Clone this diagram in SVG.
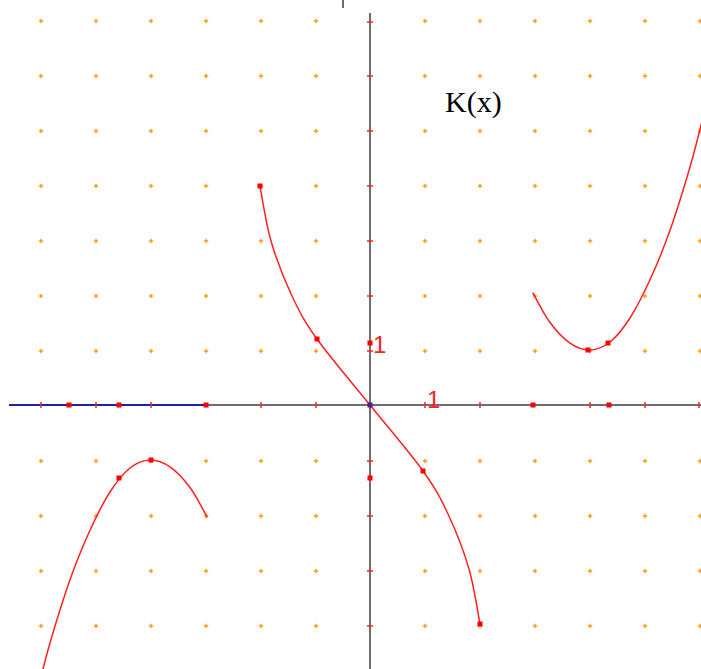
<svg xmlns="http://www.w3.org/2000/svg" width="701" height="669" viewBox="0 0 701 669">
<style>
.dot{stroke:#ff9d1a;stroke-width:1.4;fill:none}
.axis{stroke:#6e6e6e;stroke-width:2;fill:none}
.tick{stroke:#ff2020;stroke-width:1.5}
.curve{stroke:#ff2020;stroke-width:1.5;fill:none;stroke-linecap:round}
.pt{fill:#ff0000}
.lbl{fill:#ff2020;font-family:"Liberation Sans",Arial,sans-serif;font-size:24px;font-weight:normal}
.title{fill:#000;font-family:"Liberation Serif","Times New Roman",serif;font-size:30px}
</style>
<defs>
<path id="d" class="dot" d="M-2.2 0h4.4M0 -2.2v4.4"/>
<path id="xt" class="tick" d="M0 -3v6"/>
<path id="yt" class="tick" d="M-3 0h6"/>
<rect id="sq" class="pt" x="-2.5" y="-2.5" width="5" height="5"/>
<path id="rc" d="M533 293.1C535.8 298 543.8 314.2 550 322.5C556.2 330.8 563.3 338.5 570 343.1C576.7 347.7 583.3 350.2 590 350C596.7 349.8 603.3 347.3 610 342C616.7 336.7 623.3 328.4 630 318C636.7 307.6 643.3 294.4 650 279.8C656.7 265.2 663.3 249.1 670 230.3C676.7 211.5 684.5 185.8 690 167C695.5 148.2 700.8 125.8 703 117.6"/>
</defs>
<rect width="701" height="669" fill="#fff"/>
<g id="grid">
<g id="row21"><use href="#d" x="41" y="21"/><use href="#d" x="96" y="21"/><use href="#d" x="151" y="21"/><use href="#d" x="206" y="21"/><use href="#d" x="261" y="21"/><use href="#d" x="316" y="21"/><use href="#d" x="425" y="21"/><use href="#d" x="480" y="21"/><use href="#d" x="535" y="21"/><use href="#d" x="590" y="21"/><use href="#d" x="645" y="21"/><use href="#d" x="700" y="21"/></g>
<use href="#row21" y="55"/>
<use href="#row21" y="110"/>
<use href="#row21" y="165"/>
<use href="#row21" y="220"/>
<use href="#row21" y="275"/>
<use href="#row21" y="330"/>
<use href="#row21" y="440"/>
<use href="#row21" y="495"/>
<use href="#row21" y="550"/>
<use href="#row21" y="605"/>
</g>
<g id="axes">
<line class="axis" x1="343" y1="0" x2="343" y2="8"/>
<line class="axis" x1="9" y1="405" x2="701" y2="405"/>
<line x1="9" y1="405" x2="206" y2="405" stroke="#22229a" stroke-width="2"/>
<line class="axis" x1="370" y1="13" x2="370" y2="669"/>
<g id="xticks"><use href="#xt" x="41" y="405"/><use href="#xt" x="96" y="405"/><use href="#xt" x="151" y="405"/><use href="#xt" x="261" y="405"/><use href="#xt" x="316" y="405"/><use href="#xt" x="425" y="405"/><use href="#xt" x="480" y="405"/><use href="#xt" x="590" y="405"/><use href="#xt" x="645" y="405"/><use href="#xt" x="699" y="405"/></g>
<g id="yticks"><use href="#yt" x="370" y="22"/><use href="#yt" x="370" y="76"/><use href="#yt" x="370" y="131"/><use href="#yt" x="370" y="186"/><use href="#yt" x="370" y="241"/><use href="#yt" x="370" y="296"/><use href="#yt" x="370" y="351"/><use href="#yt" x="370" y="461"/><use href="#yt" x="370" y="516"/><use href="#yt" x="370" y="571"/><use href="#yt" x="370" y="626"/></g>
</g>
<g id="curves">
<use href="#rc" class="curve"/>
<use href="#rc" class="curve" transform="rotate(180 370 405)"/>
<path class="curve" d="M260 186C261.8 195.2 265.7 222.7 271 241C276.3 259.3 284.3 279.7 292 296C299.7 312.3 304 320.8 317 339C330 357.2 352.3 383 370 405C387.7 427 410 452.8 423 471C436 489.2 440.3 497.7 448 514C455.7 530.3 463.7 550.7 469 569C474.3 587.3 478.2 614.8 480 624"/>
</g>
<g id="points">
<use href="#sq" x="260" y="186"/>
<use href="#sq" x="317" y="339"/>
<use href="#sq" x="423" y="471"/>
<use href="#sq" x="480" y="624"/>
<use href="#sq" x="588" y="350"/>
<use href="#sq" x="608" y="343"/>
<use href="#sq" x="151" y="460"/>
<use href="#sq" x="119" y="478"/>
<use href="#sq" x="69" y="405"/>
<use href="#sq" x="119" y="405"/>
<use href="#sq" x="206" y="405"/>
<use href="#sq" x="533" y="405"/>
<use href="#sq" x="609" y="405"/>
<use href="#sq" x="370" y="343"/>
<use href="#sq" x="370" y="478"/>
<rect x="367.5" y="402.5" width="5" height="5" fill="#5a1a8a"/>
</g>
<g id="labels">
<text class="lbl" x="373" y="353">1</text>
<text class="lbl" x="427" y="408">1</text>
<text class="title" x="445" y="112">K(x)</text>
</g>
</svg>
